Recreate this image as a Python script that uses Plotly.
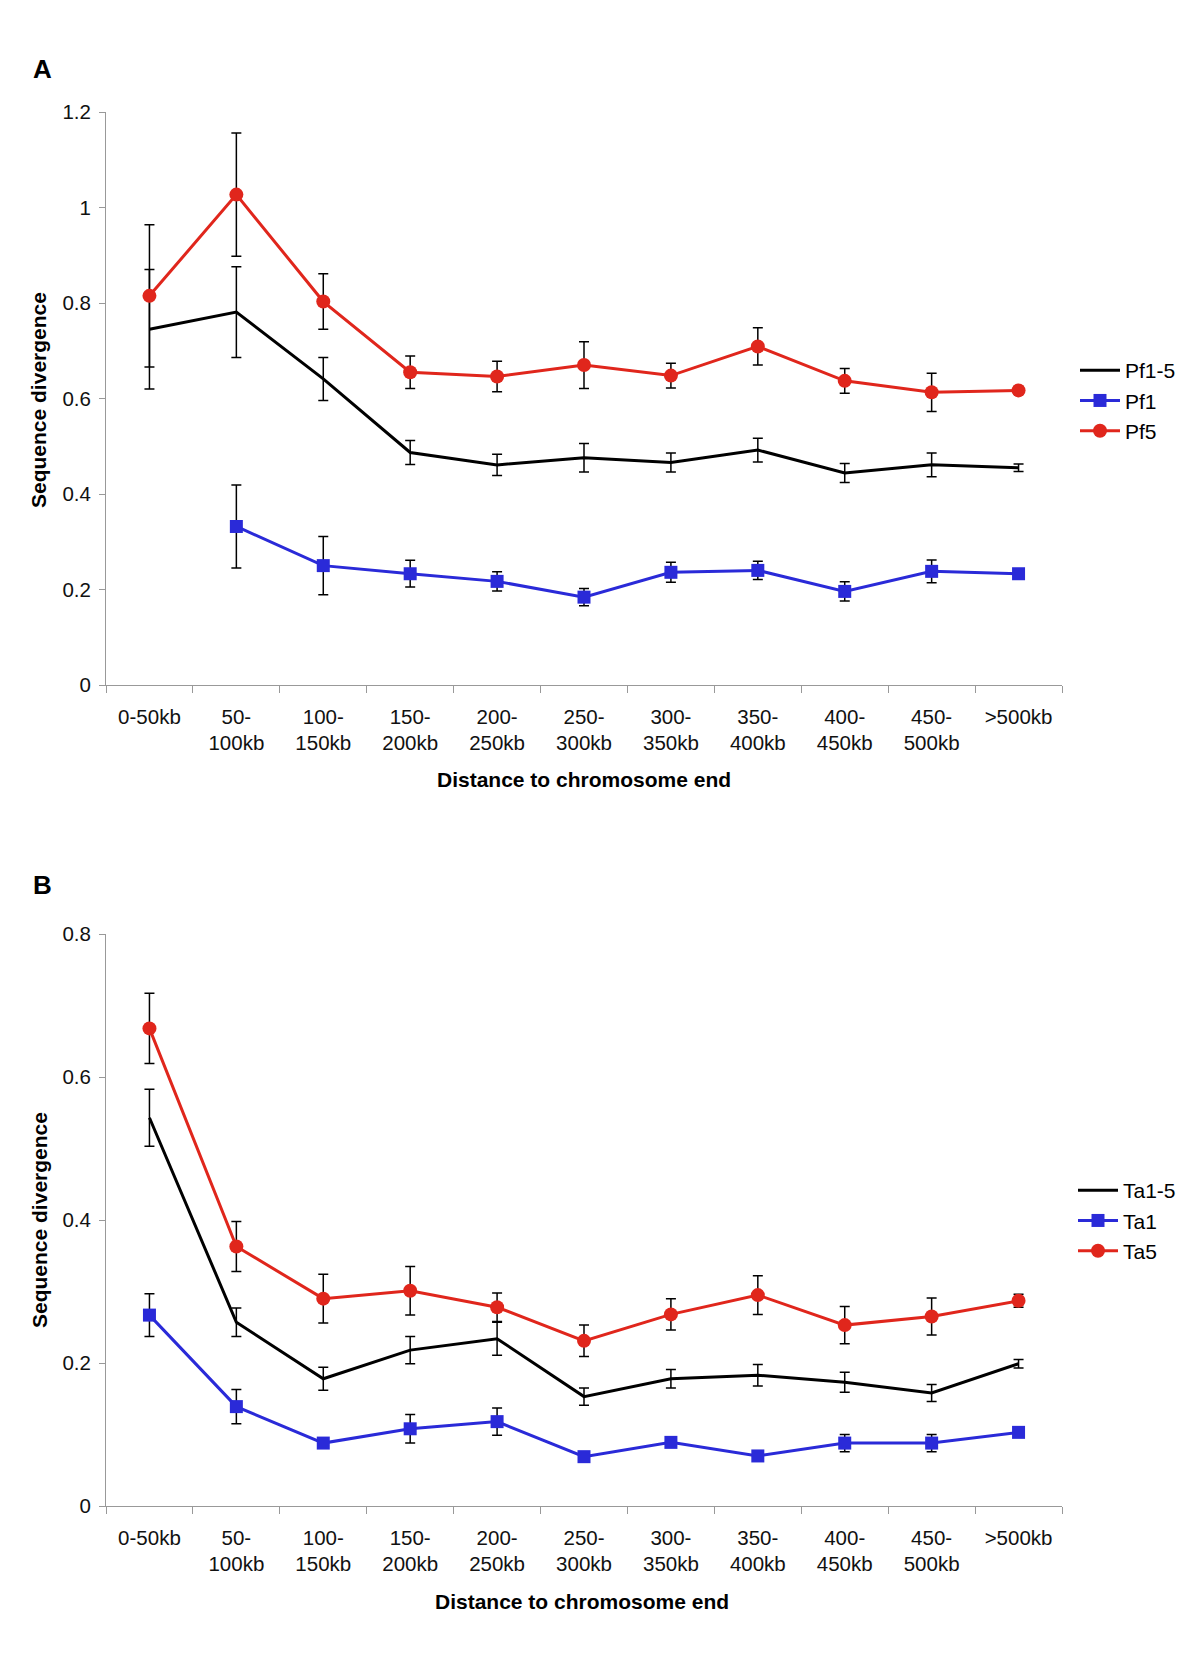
import plotly.graph_objects as go

# categories on the x axis (same for both panels)
categories = ["0-50kb", "50-<br>100kb", "100-<br>150kb", "150-<br>200kb", "200-<br>250kb",
              "250-<br>300kb", "300-<br>350kb", "350-<br>400kb", "400-<br>450kb",
              "450-<br>500kb", ">500kb"]

# panel A - Plasmodium
pf15 = [0.745, 0.781, 0.641, 0.487, 0.461, 0.476, 0.466, 0.492, 0.444, 0.461, 0.455]
pf15_err = [0.125, 0.095, 0.045, 0.025, 0.022, 0.030, 0.020, 0.025, 0.020, 0.025, 0.008]
pf1 = [None, 0.332, 0.250, 0.233, 0.217, 0.184, 0.236, 0.240, 0.196, 0.238, 0.233]
pf1_err = [None, 0.087, 0.061, 0.028, 0.020, 0.018, 0.021, 0.019, 0.020, 0.024, 0.005]
pf5 = [0.815, 1.027, 0.803, 0.655, 0.646, 0.670, 0.648, 0.709, 0.637, 0.613, 0.617]
pf5_err = [0.149, 0.129, 0.058, 0.034, 0.032, 0.049, 0.026, 0.039, 0.026, 0.040, 0.008]

# panel B - Theileria
ta15 = [0.543, 0.257, 0.178, 0.218, 0.234, 0.153, 0.178, 0.183, 0.173, 0.158, 0.199]
ta15_err = [0.040, 0.020, 0.016, 0.019, 0.023, 0.012, 0.013, 0.015, 0.014, 0.012, 0.006]
ta1 = [0.267, 0.139, 0.088, 0.108, 0.118, 0.069, 0.089, 0.070, 0.088, 0.088, 0.103]
ta1_err = [0.030, 0.024, 0.005, 0.020, 0.019, 0.006, 0.006, 0.005, 0.012, 0.012, 0.004]
ta5 = [0.668, 0.363, 0.290, 0.301, 0.278, 0.231, 0.268, 0.295, 0.253, 0.265, 0.287]
ta5_err = [0.049, 0.035, 0.034, 0.034, 0.020, 0.022, 0.022, 0.027, 0.026, 0.026, 0.009]

RED = "#e0261c"
BLUE = "#2a2ad8"
FONT = "Liberation Sans, Arial, sans-serif"

W, H = 1200, 1660
OFF = 8  # default body margin of the html page


def px(x):
    return (x - OFF) / W


def py(y):
    return 1 - (y - OFF) / H


def err(vals):
    return dict(type="data", array=vals, visible=True, color="black", thickness=1.5, width=5)


fig = go.Figure()

panels = [
    ("x", "y", "legend", [("Pf1-5", pf15, pf15_err), ("Pf1", pf1, pf1_err), ("Pf5", pf5, pf5_err)]),
    ("x2", "y2", "legend2", [("Ta1-5", ta15, ta15_err), ("Ta1", ta1, ta1_err), ("Ta5", ta5, ta5_err)]),
]
for xa, ya, lg, series in panels:
    black, blue, red = series
    fig.add_trace(go.Scatter(x=categories, y=black[1], error_y=err(black[2]), name=black[0],
                             mode="lines", line=dict(color="black", width=3),
                             xaxis=xa, yaxis=ya, legend=lg))
    fig.add_trace(go.Scatter(x=categories, y=blue[1], error_y=err(blue[2]), name=blue[0],
                             mode="lines+markers", line=dict(color=BLUE, width=3),
                             marker=dict(symbol="square", size=13, color=BLUE),
                             xaxis=xa, yaxis=ya, legend=lg))
    fig.add_trace(go.Scatter(x=categories, y=red[1], error_y=err(red[2]), name=red[0],
                             mode="lines+markers", line=dict(color=RED, width=3),
                             marker=dict(symbol="circle", size=14, color=RED),
                             xaxis=xa, yaxis=ya, legend=lg))

xdom = [px(106), px(1062)]
xax = dict(domain=xdom, showline=True, linecolor="#999999", linewidth=1, ticks="outside",
           tickson="boundaries", ticklen=7, tickcolor="#999999", showgrid=False,
           tickfont=dict(size=20.5, color="#111111"), ticklabelstandoff=13, tickangle=0,
           range=[-0.5, 10.5], automargin=False)
yax = dict(showline=True, linecolor="#999999", linewidth=1, ticks="outside", ticklen=6,
           tickcolor="#999999", showgrid=False, zeroline=False, dtick=0.2,
           tickfont=dict(size=20.5, color="#111111"), ticklabelstandoff=4, automargin=False)

leg = dict(xanchor="left", yanchor="top", font=dict(size=21), bgcolor="rgba(0,0,0,0)",
           tracegroupgap=0, itemwidth=40)

fig.update_layout(
    width=W, height=H,
    margin=dict(l=0, r=0, t=0, b=0, autoexpand=False),
    plot_bgcolor="white", paper_bgcolor="white",
    font=dict(family=FONT, color="black"),
    xaxis=dict(xax, anchor="y"),
    yaxis=dict(yax, domain=[py(685), py(112)], range=[0, 1.2], anchor="x"),
    xaxis2=dict(xax, anchor="y2"),
    yaxis2=dict(yax, domain=[py(1506), py(934)], range=[0, 0.8], anchor="x2"),
    legend=dict(leg, x=px(1075), y=py(350)),
    legend2=dict(leg, x=px(1073), y=py(1170)),
    showlegend=True,
)

annotations = [
    dict(text="<b>A</b>", x=42, y=69, size=26),
    dict(text="<b>B</b>", x=42, y=885, size=26),
    dict(text="<b>Distance to chromosome end</b>", x=584, y=780, size=21),
    dict(text="<b>Distance to chromosome end</b>", x=582, y=1601, size=21),
]
for a in annotations:
    fig.add_annotation(text=a["text"], x=px(a["x"]), y=py(a["y"]), xref="paper", yref="paper",
                       xanchor="center", yanchor="middle", showarrow=False,
                       font=dict(size=a["size"], family=FONT, color="black"))
for yc in [400, 1220]:
    fig.add_annotation(text="<b>Sequence divergence</b>", x=px(39), y=py(yc), xref="paper",
                       yref="paper", xanchor="center", yanchor="middle", showarrow=False,
                       textangle=-90, font=dict(size=21, family=FONT, color="black"))

fig.write_html("out.html")
